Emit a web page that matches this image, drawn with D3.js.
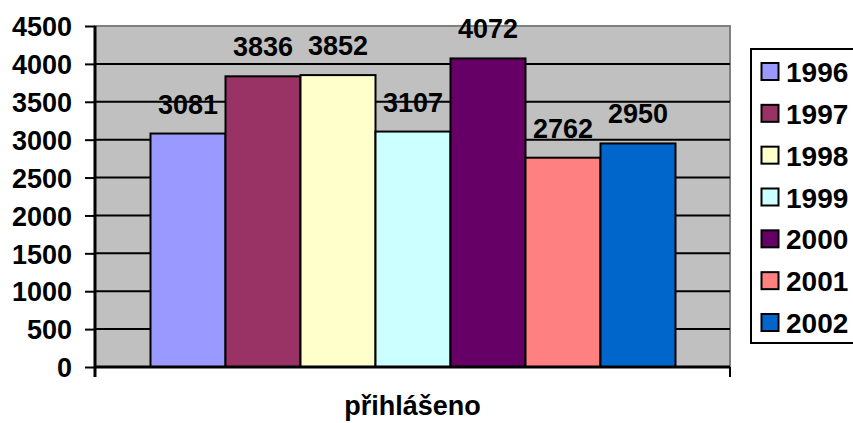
<!DOCTYPE html>
<html>
<head>
<meta charset="utf-8">
<script src="https://cdn.jsdelivr.net/npm/d3@7"></script>
<style>
body { margin: 0; background: white; }
text { font-family: Arial, "Liberation Sans", sans-serif; font-weight: bold; }
</style>
</head>
<body>
<div id="chart"></div>
<script>
//data
var years = ["1996", "1997", "1998", "1999", "2000", "2001", "2002"];
var values = [3081, 3836, 3852, 3107, 4072, 2762, 2950];
var colors = ["#9999FF", "#993366", "#FFFFCC", "#CCFFFF", "#660066", "#FF8080", "#0066CC"];
var yTicks = [0, 500, 1000, 1500, 2000, 2500, 3000, 3500, 4000, 4500];
var category = "přihlášeno";

//svg dimensions
var xSize = 853;
var ySize = 423;

//plot area (window.top is read-only, so prefix names)
var pLeft = 95, pRight = 730, pTop = 26, pBottom = 367;

var svg = d3.select("#chart").append("svg")
	.attr("width", xSize)
	.attr("height", ySize);

var y = d3.scaleLinear().domain([0, 4500]).range([pBottom, pTop]);
var x = d3.scaleBand().domain(years).range([150.5, 675.5]).padding(0);

//gray background with gray border on top/right
svg.append("rect")
	.attr("x", pLeft)
	.attr("y", pTop)
	.attr("width", pRight - pLeft)
	.attr("height", pBottom - pTop)
	.attr("fill", "#C0C0C0")
	.attr("stroke", "#808080")
	.attr("stroke-width", 2);

//gridlines
svg.selectAll("line.grid")
	.data(yTicks.slice(1, yTicks.length - 1))
	.enter()
	.append("line")
	.attr("class", "grid")
	.attr("x1", pLeft)
	.attr("x2", pRight)
	.attr("y1", function(d){ return y(d); })
	.attr("y2", function(d){ return y(d); })
	.attr("stroke", "black")
	.attr("stroke-width", 2);

//bars
svg.selectAll("rect.bar")
	.data(values)
	.enter()
	.append("rect")
	.attr("class", "bar")
	.attr("x", function(d, i){ return x(years[i]); })
	.attr("y", function(d){ return y(d); })
	.attr("width", x.bandwidth())
	.attr("height", function(d){ return y(0) - y(d); })
	.attr("fill", function(d, i){ return colors[i]; })
	.attr("stroke", "black")
	.attr("stroke-width", 2);

//value labels
svg.selectAll("text.val")
	.data(values)
	.enter()
	.append("text")
	.attr("class", "val")
	.attr("x", function(d, i){ return x(years[i]) + x.bandwidth() / 2; })
	.attr("y", function(d){ return y(d) - 20; })
	.attr("text-anchor", "middle")
	.attr("font-size", "27px")
	.text(function(d){ return d; });

//y axis
var yAxis = d3.axisLeft(y)
	.tickValues(yTicks)
	.tickFormat(d3.format("d"))
	.tickSize(10)
	.tickPadding(13);

var gy = svg.append("g")
	.attr("transform", "translate(" + pLeft + ",0)")
	.call(yAxis);
gy.select(".domain").attr("stroke-width", 3).attr("d", "M0," + (pBottom + 10) + "V" + pTop);
gy.selectAll(".tick line").attr("stroke-width", 2);
gy.selectAll(".tick text")
	.attr("font-size", "27px")
	.attr("font-family", "Arial, 'Liberation Sans', sans-serif")
	.attr("font-weight", "bold")
	.attr("fill", "black")
	.attr("dy", "0.36em");

//x axis line + end tick
svg.append("line")
	.attr("x1", pLeft)
	.attr("x2", pRight)
	.attr("y1", pBottom)
	.attr("y2", pBottom)
	.attr("stroke", "black")
	.attr("stroke-width", 3);
svg.append("line")
	.attr("x1", pRight)
	.attr("x2", pRight)
	.attr("y1", pBottom)
	.attr("y2", pBottom + 10)
	.attr("stroke", "black")
	.attr("stroke-width", 2);

//category label
svg.append("text")
	.attr("x", (pLeft + pRight) / 2)
	.attr("y", 415)
	.attr("text-anchor", "middle")
	.attr("font-size", "27px")
	.text(category);

//legend
var legend = svg.append("g");
legend.append("rect")
	.attr("x", 751)
	.attr("y", 49)
	.attr("width", 110)
	.attr("height", 294)
	.attr("fill", "white")
	.attr("stroke", "black")
	.attr("stroke-width", 2);

var ly = d3.scalePoint().domain(years).range([72, 323]);

legend.selectAll("rect.sw")
	.data(years)
	.enter()
	.append("rect")
	.attr("class", "sw")
	.attr("x", 761.5)
	.attr("y", function(d){ return ly(d) - 9; })
	.attr("width", 17)
	.attr("height", 17)
	.attr("fill", function(d, i){ return colors[i]; })
	.attr("stroke", "black")
	.attr("stroke-width", 2);

legend.selectAll("text.lg")
	.data(years)
	.enter()
	.append("text")
	.attr("class", "lg")
	.attr("x", 786)
	.attr("y", function(d){ return ly(d); })
	.attr("dy", "0.36em")
	.attr("font-size", "28px")
	.text(function(d){ return d; });
</script>
</body>
</html>
